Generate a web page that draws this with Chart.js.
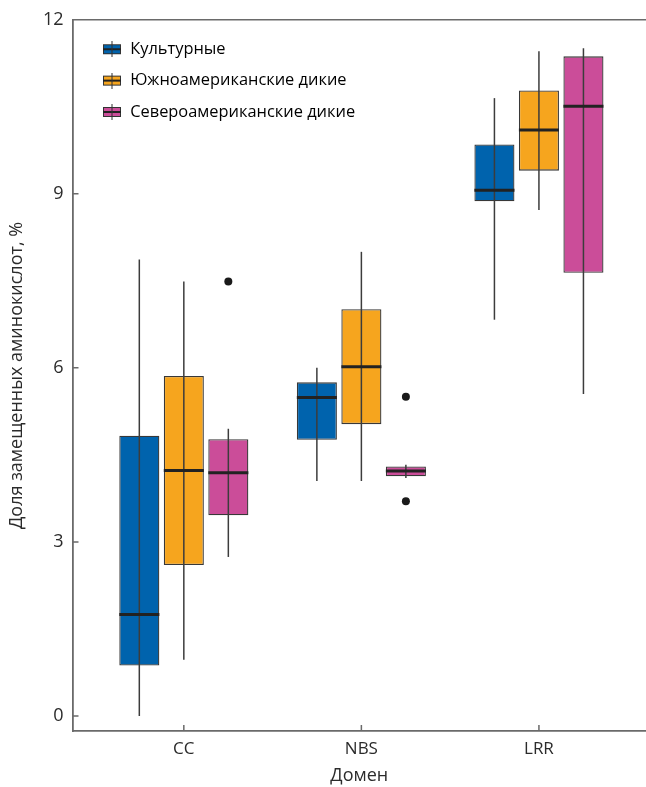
<!DOCTYPE html>
<html lang="ru">
<head>
<meta charset="UTF-8">
<title>Доля замещенных аминокислот по доменам</title>
<script src="https://cdn.jsdelivr.net/npm/chart.js"></script>
<style>
  html, body { margin: 0; padding: 0; background: #fff; }
  #wrap { width: 646px; height: 787px; position: relative; }
</style>
</head>
<body>
<div id="wrap"><canvas id="chart"></canvas></div>
<script>
const domains = ['CC', 'NBS', 'LRR'];
const seriesNames = ['Культурные', 'Южноамериканские дикие', 'Североамериканские дикие'];
const seriesColors = ['#0063ad', '#f6a51e', '#cb4d99'];
const yTicks = [0, 3, 6, 9, 12];

// [min, q1, median, q3, max] for each domain
const cultivated = [[0.0, 0.87, 1.75, 4.83, 7.87], [4.05, 4.76, 5.49, 5.75, 6.0], [6.83, 8.87, 9.06, 9.85, 10.65]];
const southWild = [[0.97, 2.6, 4.23, 5.86, 7.49], [4.05, 5.03, 6.02, 7.01, 8.0], [8.72, 9.4, 10.1, 10.78, 11.46]];
const northWild = [[2.74, 3.46, 4.19, 4.77, 4.95], [4.1, 4.13, 4.22, 4.3, 4.33], [5.55, 7.64, 10.51, 11.37, 11.51]];

// outliers for each domain
const cultivatedOut = [[], [], []];
const southWildOut = [[], [], []];
const northWildOut = [[7.49], [5.5, 3.7], []];

const stats = [cultivated, southWild, northWild];
const outliers = [cultivatedOut, southWildOut, northWildOut];

const FONT = "'Open Sans', 'Noto Sans', sans-serif";
const AXIS = '#6a6a6a';

// legend icon: small box with median and whisker
function makeIcon(color) {
  const c = document.createElement('canvas');
  c.width = 20; c.height = 16;
  const g = c.getContext('2d');
  g.fillStyle = color;
  g.fillRect(1, 3, 18, 10);
  g.strokeStyle = '#333';
  g.lineWidth = 1;
  g.strokeRect(1.5, 3.5, 17, 9);
  g.fillStyle = '#222';
  g.fillRect(1, 7, 18, 2);
  g.fillStyle = '#333';
  g.fillRect(9.5, 0, 1, 16);
  return c;
}
const icons = seriesColors.map(makeIcon);

const boxPlugin = {
  id: 'boxDecor',
  afterLayout(chart) {
    const lg = chart.legend;
    if (lg) { lg.left = 87; lg.top = 26; }
  },
  afterDatasetsDraw(chart) {
    const ctx = chart.ctx;
    const y = chart.scales.y;
    ctx.save();
    stats.forEach((series, i) => {
      const meta = chart.getDatasetMeta(i);
      meta.data.forEach((bar, j) => {
        const [mn, , med, , mx] = series[j];
        const half = bar.width / 2;
        // whisker through the box
        ctx.strokeStyle = '#3c3c3c';
        ctx.lineWidth = 1.5;
        ctx.beginPath();
        ctx.moveTo(bar.x, y.getPixelForValue(mn));
        ctx.lineTo(bar.x, y.getPixelForValue(mx));
        ctx.stroke();
        // median
        ctx.strokeStyle = '#222';
        ctx.lineWidth = 3;
        ctx.beginPath();
        ctx.moveTo(bar.x - half, y.getPixelForValue(med));
        ctx.lineTo(bar.x + half, y.getPixelForValue(med));
        ctx.stroke();
        // outliers
        ctx.fillStyle = '#1a1a1a';
        outliers[i][j].forEach(v => {
          ctx.beginPath();
          ctx.arc(bar.x, y.getPixelForValue(v), 4, 0, Math.PI * 2);
          ctx.fill();
        });
      });
    });
    ctx.restore();
  },
  afterDraw(chart) {
    const ctx = chart.ctx;
    const { x, y } = chart.scales;
    const a = chart.chartArea;
    ctx.save();
    ctx.strokeStyle = AXIS;
    ctx.lineWidth = 1.5;
    ctx.beginPath();
    // inward tick marks
    yTicks.forEach(v => {
      const py = y.getPixelForValue(v);
      ctx.moveTo(a.left, py);
      ctx.lineTo(a.left + 6, py);
    });
    domains.forEach((d, i) => {
      const px = x.getPixelForValue(i + 1);
      ctx.moveTo(px, a.bottom);
      ctx.lineTo(px, a.bottom - 6);
    });
    // top frame
    ctx.moveTo(a.left, a.top);
    ctx.lineTo(a.right, a.top);
    ctx.stroke();
    ctx.restore();
  }
};

new Chart(document.getElementById('chart'), {
  type: 'bar',
  data: {
    datasets: seriesNames.map((name, i) => ({
      label: name,
      data: stats[i].map((s, j) => ({ x: j + 1, y: [s[1], s[3]] })),
      backgroundColor: seriesColors[i],
      borderColor: '#383838',
      borderWidth: 1.3,
      borderSkipped: false,
      categoryPercentage: 0.752,
      barPercentage: 0.9
    }))
  },
  options: {
    responsive: true,
    maintainAspectRatio: false,
    animation: false,
    layout: { padding: { top: 17, right: 0, bottom: 0, left: 0 } },
    scales: {
      x: {
        type: 'linear',
        offset: false,
        min: 0.373,
        max: 3.603,
        afterBuildTicks: s => { s.ticks = domains.map((d, i) => ({ value: i + 1 })); },
        afterFit: s => { s.height = 56; },
        grid: { display: false, drawTicks: false, offset: false },
        border: { color: AXIS, width: 1.8 },
        ticks: {
          padding: 8,
          color: '#2b2b2b',
          font: { family: FONT, size: 17 },
          callback: v => domains[v - 1]
        },
        title: {
          display: true,
          text: 'Домен',
          color: '#2b2b2b',
          font: { family: FONT, size: 18 },
          padding: 0
        }
      },
      y: {
        min: -0.26,
        max: 12,
        afterBuildTicks: s => { s.ticks = yTicks.map(v => ({ value: v })); },
        afterFit: s => { s.width = 72.5; },
        grid: { display: false, drawTicks: false },
        border: { color: AXIS, width: 1.8 },
        ticks: {
          padding: 9,
          color: '#2b2b2b',
          font: { family: FONT, size: 18 }
        },
        title: {
          display: true,
          text: 'Доля замещенных аминокислот, %',
          color: '#2b2b2b',
          font: { family: FONT, size: 18 },
          padding: { top: 6, bottom: 0 }
        }
      }
    },
    plugins: {
      tooltip: { enabled: false },
      legend: {
        position: 'chartArea',
        align: 'start',
        labels: {
          usePointStyle: true,
          pointStyleWidth: 20,
          padding: 15,
          color: '#222',
          font: { family: FONT, size: 16.4 },
          generateLabels: chart => chart.data.datasets.map((ds, i) => ({
            text: ds.label,
            pointStyle: icons[i],
            datasetIndex: i,
            hidden: false,
            lineWidth: 0,
            fillStyle: ds.backgroundColor,
            strokeStyle: 'transparent'
          }))
        }
      }
    }
  },
  plugins: [boxPlugin]
});
</script>
</body>
</html>
